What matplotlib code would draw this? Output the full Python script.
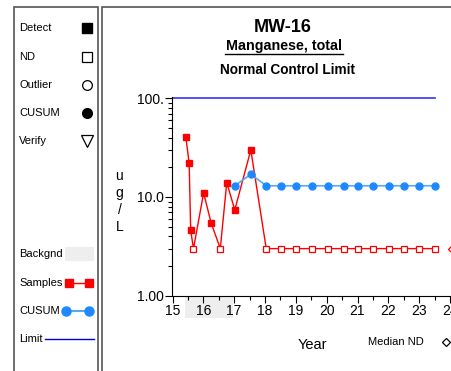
import matplotlib
matplotlib.use("Agg")
import matplotlib.pyplot as plt
from matplotlib.patches import Rectangle
from matplotlib.lines import Line2D
from matplotlib.transforms import blended_transform_factory
from matplotlib.ticker import FixedLocator, NullFormatter, LogLocator
import numpy as np

plt.rcParams['font.family'] = ['Liberation Sans', 'DejaVu Sans']

# sample data (year, value), detects and non-detects
detect_years = [15.43, 15.54, 15.59, 16.01, 16.25, 16.76, 17.02, 17.54]
detect_vals = [41.0, 22.0, 4.6, 11.0, 5.5, 14.0, 7.4, 30.0]
nd_years = [15.68, 16.55, 18.04, 18.52, 18.99, 19.51, 20.03, 20.57, 21.03,
            21.49, 22.01, 22.51, 23.01, 23.51]
nd_vals = [3.0] * 14
cusum_years = [17.02, 17.54, 18.04, 18.52, 18.99, 19.51, 20.03, 20.57, 21.03,
               21.49, 22.01, 22.51, 23.01, 23.51]
cusum_vals = [13.0, 17.0, 13.0, 13.0, 13.0, 13.0, 13.0, 13.0, 13.0, 13.0,
              13.0, 13.0, 13.0, 13.0]
limit_years = [15.0, 23.51]
limit_vals = [100.0, 100.0]
median_nd = 3.0
median_nd_year = 24.05
backgnd_span = (15.41, 16.97)
x_ticks = list(range(15, 25))
y_ticks = [1.0, 10.0, 100.0]
y_ticklabels = ["1.00", "10.0", "100."]

W, H = 452, 371
fig = plt.figure(figsize=(W / 100, H / 100), dpi=100)


def fx(px):
    return px / W


def fy(py):
    return 1 - py / H


# panel frames
fig.patches.append(Rectangle((fx(14.5), fy(400)), fx(83), fy(7) - fy(400),
                             transform=fig.transFigure, fill=False,
                             edgecolor='#555555', lw=1.2))
fig.patches.append(Rectangle((fx(102.5), fy(400)), fx(400), fy(7) - fy(400),
                             transform=fig.transFigure, fill=False,
                             edgecolor='#555555', lw=1.2))

# left legend
leg_fs = 8
sym_x = 87
items = [("Detect", 28, dict(marker='s', mfc='black', mec='black', ms=7)),
         ("ND", 57, dict(marker='s', mfc='white', mec='black', ms=7, mew=0.9)),
         ("Outlier", 85, dict(marker='o', mfc='white', mec='black', ms=7, mew=0.9)),
         ("CUSUM", 113, dict(marker='o', mfc='black', mec='black', ms=7)),
         ("Verify", 141, dict(marker='v', mfc='white', mec='black', ms=9, mew=0.9))]
for label, py, style in items:
    fig.text(fx(19), fy(py), label, fontsize=leg_fs, va='center', ha='left')
    fig.add_artist(Line2D([fx(sym_x)], [fy(py)], transform=fig.transFigure,
                          ls='none', **style))

fig.text(fx(19), fy(254), "Backgnd", fontsize=leg_fs, va='center')
fig.patches.append(Rectangle((fx(65), fy(261)), fx(29), fy(247) - fy(261),
                             transform=fig.transFigure, facecolor='#eeeeee',
                             edgecolor='none'))
fig.text(fx(19), fy(283), "Samples", fontsize=leg_fs, va='center')
fig.add_artist(Line2D([fx(69), fx(89)], [fy(283), fy(283)], transform=fig.transFigure,
                      color='red', lw=1, marker='s', ms=6))
fig.text(fx(19), fy(311), "CUSUM", fontsize=leg_fs, va='center')
fig.add_artist(Line2D([fx(66), fx(89)], [fy(311), fy(311)], transform=fig.transFigure,
                      color='#55aaee', lw=1.5, marker='o', ms=6.5, mfc='#1e88ff', mec='#1e88ff'))
fig.text(fx(19), fy(339), "Limit", fontsize=leg_fs, va='center')
fig.add_artist(Line2D([fx(45), fx(94)], [fy(339), fy(339)], transform=fig.transFigure,
                      color='#0000cc', lw=1))

# titles
fig.text(fx(283), fy(27), "MW-16", fontsize=13, fontweight='bold', ha='center', va='center')
fig.text(fx(284), fy(46), "Manganese, total", fontsize=10.3, fontweight='bold',
         ha='center', va='center')
fig.add_artist(Line2D([fx(225), fx(343)], [fy(54), fy(54)], transform=fig.transFigure,
                      color='black', lw=1))
fig.text(fx(288), fy(70), "Normal Control Limit", fontsize=9.8, fontweight='bold',
         ha='center', va='center')

# main axes
ax_l, ax_r, ax_t, ax_b = 172.5, 450, 96.5, 295.7
ax = fig.add_axes([fx(ax_l), fy(ax_b), fx(ax_r - ax_l), fy(ax_t) - fy(ax_b)])
ax.set_yscale('log')
ax.set_xlim(15, 24)
ax.set_ylim(1.0, 100 * 10 ** (1.8 / 99))
for s in ['top', 'right']:
    ax.spines[s].set_visible(False)
ax.patch.set_alpha(0)

ax.set_xticks(x_ticks)
ax.set_xticklabels([str(t) for t in x_ticks], fontsize=10)
ax.xaxis.set_minor_locator(FixedLocator(np.arange(15.5, 24, 1.0)))
ax.set_yticks(y_ticks)
ax.set_yticklabels(y_ticklabels, fontsize=10)
ax.yaxis.set_minor_locator(LogLocator(base=10, subs=np.arange(2, 10)))
ax.yaxis.set_minor_formatter(NullFormatter())
ax.tick_params(axis='both', which='major', length=5, width=0.8, pad=1)
ax.tick_params(axis='both', which='minor', length=3, width=0.8)

# background band below the axis
trans = blended_transform_factory(ax.transData, ax.transAxes)
ax.add_patch(Rectangle((backgnd_span[0], -0.11), backgnd_span[1] - backgnd_span[0], 0.11,
                       transform=trans, facecolor='#eeeeee', edgecolor='none',
                       clip_on=False, zorder=0))

ax.plot(limit_years, limit_vals, color='#3333ff', lw=1.2, clip_on=False, zorder=2)

# sample line through all points in time order
all_years = detect_years + nd_years
all_vals = detect_vals + nd_vals
order = np.argsort(all_years)
ax.plot(np.array(all_years)[order], np.array(all_vals)[order], color='red', lw=1, zorder=3)
ax.plot(detect_years, detect_vals, ls='none', marker='s', ms=4.6, color='red', zorder=4)
ax.plot(nd_years, nd_vals, ls='none', marker='s', ms=4.6, mfc='white', mec='red',
        mew=0.9, zorder=4)
ax.plot(cusum_years, cusum_vals, color='#55aaee', lw=1.2, marker='o', ms=5,
        mfc='#1e88ff', mec='#1e88ff', zorder=3)
ax.plot([median_nd_year], [median_nd], ls='none', marker='D', ms=4, mfc='white',
        mec='red', mew=0.9, clip_on=False, zorder=4)

# axis labels
for py, ch in zip([176, 193, 210, 227], ["u", "g", "/", "L"]):
    fig.text(fx(119.5), fy(py), ch, fontsize=10, ha='center', va='center')
fig.text(fx(312), fy(345), "Year", fontsize=10.5, ha='center', va='center')
fig.text(fx(368), fy(342), "Median ND", fontsize=8, ha='left', va='center')
fig.add_artist(Line2D([fx(446)], [fy(342)], transform=fig.transFigure, ls='none',
                      marker='D', ms=4.5, mfc='white', mec='black', mew=0.9))

fig.savefig("out.png", dpi=100)
